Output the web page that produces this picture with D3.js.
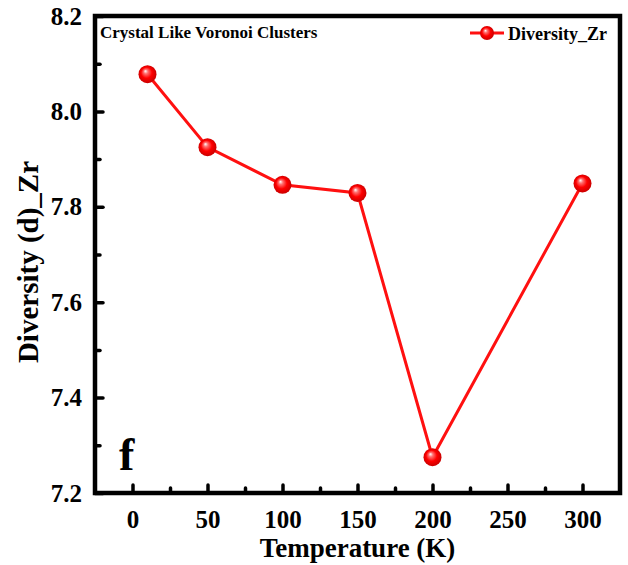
<!DOCTYPE html>
<html>
<head>
<meta charset="utf-8">
<script src="https://cdn.jsdelivr.net/npm/d3@7"></script>
<style>
body { margin: 0; background: #fff; }
</style>
</head>
<body>
<div id="chart-area"></div>
<script>
// data
var temps = [10, 50, 100, 150, 200, 300];
var diversity = [8.078, 7.925, 7.846, 7.829, 7.275, 7.849];
var xTicks = [0, 50, 100, 150, 200, 250, 300];
var xMinor = [25, 75, 125, 175, 225, 275];
var yTicks = [7.2, 7.4, 7.6, 7.8, 8.0, 8.2];
var yMinor = [7.3, 7.5, 7.7, 7.9, 8.1];
var seriesName = "Diversity_Zr";

var FONT = "'Liberation Serif', Tinos, 'Times New Roman', 'DejaVu Serif', serif";

var W = 628, H = 565;
var margin = {top: 16, right: 8, bottom: 72, left: 95};
var width = W - margin.left - margin.right;
var height = H - margin.top - margin.bottom;

var svg = d3.select("#chart-area").append("svg")
	.attr("width", W)
	.attr("height", H)
	.attr("font-family", FONT)
	.attr("font-weight", "bold");

// glossy ball marker
var defs = svg.append("defs");
var grad = defs.append("radialGradient")
	.attr("id", "ball")
	.attr("cx", "50%").attr("cy", "50%").attr("r", "55%")
	.attr("fx", "38%").attr("fy", "32%");
grad.append("stop").attr("offset", "0%").attr("stop-color", "#ffffff");
grad.append("stop").attr("offset", "22%").attr("stop-color", "#ff7070");
grad.append("stop").attr("offset", "55%").attr("stop-color", "#ff0000");
grad.append("stop").attr("offset", "100%").attr("stop-color", "#c00000");

var g = svg.append("g")
	.attr("transform", "translate(" + margin.left + ", " + margin.top + ")");

var x = d3.scaleLinear().domain([-25, 325]).range([0, width]);
var y = d3.scaleLinear().domain([7.2, 8.2]).range([height, 0]);

// minor ticks
g.append("g")
	.attr("class", "x minor")
	.attr("transform", "translate(0, " + height + ")")
	.call(d3.axisBottom(x).tickValues(xMinor).tickSize(-5).tickFormat(""));
g.append("g")
	.attr("class", "y minor")
	.call(d3.axisLeft(y).tickValues(yMinor).tickSize(-5).tickFormat(""));

// major ticks
var xAxisGroup = g.append("g")
	.attr("class", "x axis")
	.attr("transform", "translate(0, " + height + ")")
	.call(d3.axisBottom(x).tickValues(xTicks).tickSizeInner(-8).tickSizeOuter(0).tickPadding(16));
var yAxisGroup = g.append("g")
	.attr("class", "y axis")
	.call(d3.axisLeft(y).tickValues(yTicks).tickSizeInner(-8).tickSizeOuter(0).tickPadding(13)
		.tickFormat(d3.format(".1f")));

g.selectAll(".axis, .minor").attr("font-family", null).attr("font-size", null);
g.selectAll(".axis path, .minor path").remove();
g.selectAll(".tick line")
	.attr("stroke", "#000")
	.attr("stroke-width", 3.5)
	.attr("stroke-linecap", "round");
g.selectAll(".axis text")
	.attr("font-size", "25px")
	.attr("fill", "#000");
xAxisGroup.selectAll("text").attr("dy", "0.75em");

// frame
g.append("rect")
	.attr("x", 0).attr("y", 0)
	.attr("width", width).attr("height", height)
	.attr("fill", "none")
	.attr("stroke", "#000")
	.attr("stroke-width", 4.5);

// line + markers
var line = d3.line()
	.x(function(d, i) { return x(temps[i]); })
	.y(function(d) { return y(d); });

g.append("path")
	.datum(diversity)
	.attr("d", line)
	.attr("fill", "none")
	.attr("stroke", "#ff1010")
	.attr("stroke-width", 3);

g.selectAll("circle.pt").data(diversity).enter().append("circle")
	.attr("class", "pt")
	.attr("cx", function(d, i) { return x(temps[i]); })
	.attr("cy", function(d) { return y(d); })
	.attr("r", 9)
	.attr("fill", "url(#ball)");

// labels
svg.append("text")
	.attr("x", margin.left + width / 2)
	.attr("y", 557)
	.attr("text-anchor", "middle")
	.attr("font-size", "27px")
	.text("Temperature (K)");

svg.append("text")
	.attr("transform", "translate(38, 262) rotate(-90)")
	.attr("text-anchor", "middle")
	.attr("font-size", "29px")
	.text("Diversity (d)_Zr");

g.append("text")
	.attr("x", 5)
	.attr("y", 22)
	.attr("font-size", "17px")
	.text("Crystal Like Voronoi Clusters");

g.append("text")
	.attr("x", 24)
	.attr("y", 454)
	.attr("font-size", "46px")
	.text("f");

// legend
var leg = g.append("g").attr("transform", "translate(" + (width - 150) + ", 17)");
leg.append("line")
	.attr("x1", 0).attr("x2", 34)
	.attr("y1", 0).attr("y2", 0)
	.attr("stroke", "#ff1010")
	.attr("stroke-width", 3);
leg.append("circle")
	.attr("cx", 17).attr("cy", 0).attr("r", 7)
	.attr("fill", "url(#ball)");
leg.append("text")
	.attr("x", 38)
	.attr("y", 7)
	.attr("font-size", "18px")
	.text(seriesName);
</script>
</body>
</html>
